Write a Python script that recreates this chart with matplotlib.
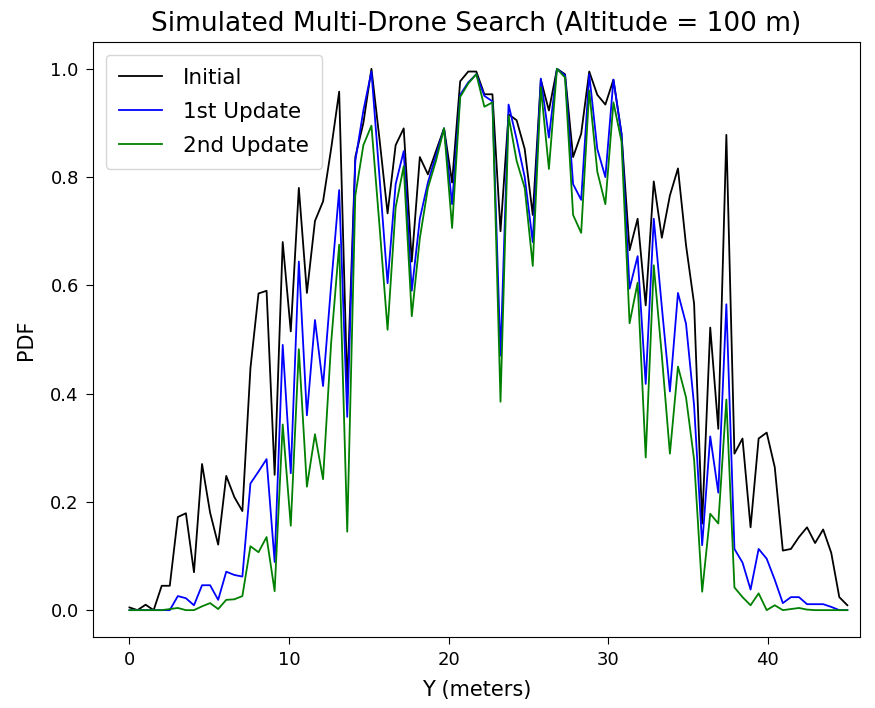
import numpy as np
import matplotlib
matplotlib.use("Agg")
import matplotlib.pyplot as plt

y_positions = np.linspace(0, 45, 90)

initial = [0.005, 0.0, 0.01, 0.0, 0.045, 0.045, 0.172, 0.179, 0.07, 0.27,
           0.18, 0.121, 0.248, 0.209, 0.183, 0.447, 0.585, 0.59, 0.25, 0.68,
           0.515, 0.78, 0.586, 0.719, 0.755, 0.852, 0.958, 0.41, 0.837, 0.90,
           1.0, 0.87, 0.733, 0.859, 0.89, 0.644, 0.837, 0.805, 0.848, 0.89,
           0.79, 0.977, 0.995, 0.995, 0.953, 0.953, 0.70, 0.916, 0.905, 0.852,
           0.73, 0.98, 0.923, 1.0, 0.99, 0.837, 0.88, 0.995, 0.952, 0.934,
           0.98, 0.88, 0.665, 0.723, 0.563, 0.792, 0.688, 0.766, 0.816, 0.674,
           0.566, 0.16, 0.522, 0.335, 0.878, 0.289, 0.317, 0.153, 0.317, 0.328,
           0.264, 0.11, 0.113, 0.135, 0.153, 0.124, 0.149, 0.106, 0.024, 0.009]

update1 = [0.0, 0.0, 0.0, 0.0, 0.0, 0.0, 0.026, 0.022, 0.009, 0.046,
           0.046, 0.019, 0.071, 0.065, 0.062, 0.234, 0.256, 0.279, 0.089, 0.49,
           0.253, 0.644, 0.36, 0.536, 0.414, 0.6, 0.776, 0.357, 0.83, 0.923,
           0.995, 0.80, 0.604, 0.787, 0.848, 0.59, 0.723, 0.79, 0.84, 0.89,
           0.75, 0.952, 0.975, 0.99, 0.95, 0.94, 0.47, 0.934, 0.87, 0.80,
           0.68, 0.982, 0.873, 1.0, 0.988, 0.787, 0.758, 0.99, 0.852, 0.80,
           0.98, 0.88, 0.594, 0.654, 0.418, 0.723, 0.56, 0.404, 0.586, 0.529,
           0.378, 0.12, 0.321, 0.217, 0.565, 0.113, 0.088, 0.038, 0.113, 0.095,
           0.056, 0.013, 0.024, 0.024, 0.011, 0.011, 0.011, 0.006, 0.0, 0.0]

update2 = [0.0, 0.0, 0.0, 0.0, 0.0, 0.002, 0.004, 0.0, 0.0, 0.007,
           0.013, 0.002, 0.019, 0.02, 0.026, 0.118, 0.107, 0.135, 0.035, 0.343,
           0.156, 0.482, 0.228, 0.325, 0.242, 0.493, 0.675, 0.145, 0.766, 0.859,
           0.895, 0.71, 0.518, 0.744, 0.82, 0.543, 0.687, 0.78, 0.83, 0.89,
           0.706, 0.948, 0.973, 0.99, 0.93, 0.938, 0.385, 0.913, 0.83, 0.78,
           0.636, 0.966, 0.815, 1.0, 0.984, 0.73, 0.697, 0.96, 0.81, 0.75,
           0.938, 0.866, 0.53, 0.605, 0.282, 0.637, 0.47, 0.289, 0.45, 0.393,
           0.278, 0.034, 0.178, 0.16, 0.389, 0.042, 0.024, 0.009, 0.031, 0.0,
           0.009, 0.0, 0.002, 0.004, 0.001, 0.0, 0.0, 0.0, 0.0, 0.0]

fig = plt.figure(figsize=(8.75, 7.08), dpi=100)
ax = fig.add_axes([0.106, 0.100, 0.877, 0.841])

ax.plot(y_positions, initial, color="black", lw=1.3, label="Initial")
ax.plot(y_positions, update1, color="blue", lw=1.3, label="1st Update")
ax.plot(y_positions, update2, color="green", lw=1.3, label="2nd Update")

ax.set_xlim(-2.3, 45.8)
ax.set_ylim(-0.05, 1.05)
ax.set_xticks([0, 10, 20, 30, 40])
ax.set_yticks([0.0, 0.2, 0.4, 0.6, 0.8, 1.0])
ax.tick_params(labelsize=13, length=5, pad=5)
ax.set_xlabel("Y (meters)", fontsize=15, labelpad=8)
ax.set_ylabel("PDF", fontsize=15, labelpad=10)
ax.set_title("Simulated Multi-Drone Search (Altitude = 100 m)", fontsize=19, pad=8)
ax.legend(loc="upper left", fontsize=15.5, labelspacing=0.65, borderpad=0.6,
          handletextpad=1.0, borderaxespad=0.6)

fig.savefig("out.png", dpi=100)
